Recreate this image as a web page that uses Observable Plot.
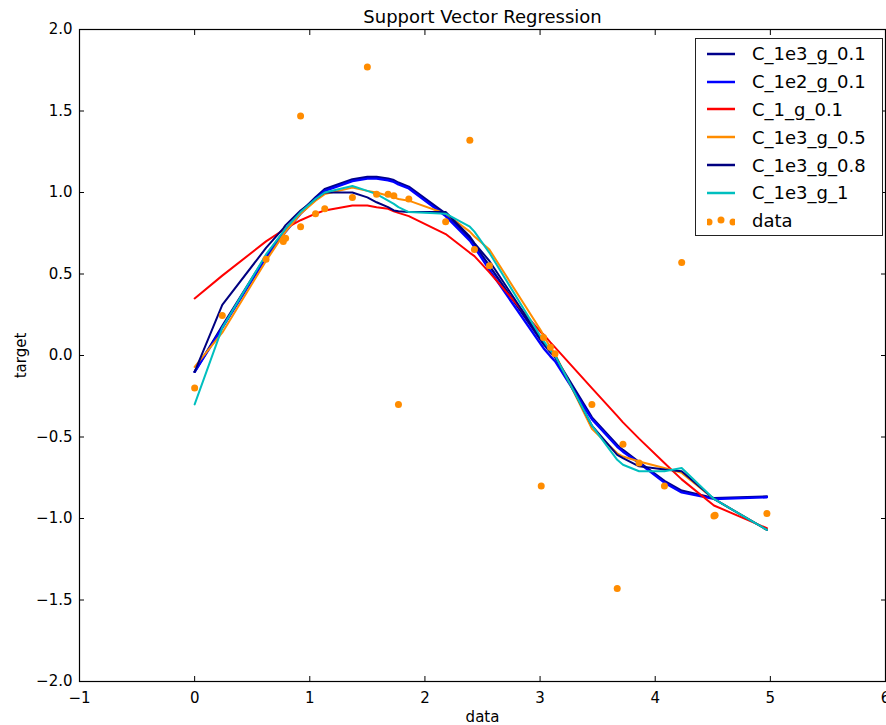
<!DOCTYPE html>
<html><head><meta charset="utf-8">
<script src="https://cdn.jsdelivr.net/npm/d3@7"></script>
<script src="https://cdn.jsdelivr.net/npm/@observablehq/plot@0.6"></script>
<style>
body{margin:0;background:#fff;overflow:hidden;font-family:"DejaVu Sans",sans-serif}
#wrap{position:relative;width:886px;height:725px}
#legend{position:absolute;left:695px;top:38px;width:188px;height:198px;border:1px solid #222;background:#fff;box-sizing:border-box;padding-top:1px}
.row{display:flex;align-items:center;height:27.8px;font-size:18px;color:#000;white-space:nowrap}
.row svg{margin-left:11px;flex:none}
.row span{margin-left:17px}
</style>
</head><body>
<div id="wrap"></div>
<script>
// ---- data ----
const title = "Support Vector Regression";
const xLabel = "data";
const yLabel = "target";
const xTicks = [-1, 0, 1, 2, 3, 4, 5, 6];
const yTicks = [-2, -1.5, -1, -0.5, 0, 0.5, 1, 1.5, 2];

const dataX = [0.00, 0.24, 0.62, 0.77, 0.79, 0.92, 0.92, 1.05, 1.13, 1.37, 1.50, 1.58, 1.68, 1.73, 1.77, 1.86, 2.18, 2.39, 2.43, 2.56, 3.01, 3.03, 3.09, 3.13, 3.45, 3.67, 3.72, 3.86, 4.08, 4.23, 4.51, 4.52, 4.97];
const dataY = [-0.20, 0.245, 0.59, 0.70, 0.72, 0.79, 1.47, 0.87, 0.90, 0.97, 1.77, 0.99, 0.99, 0.98, -0.30, 0.96, 0.82, 1.32, 0.65, 0.55, -0.80, 0.11, 0.05, 0.01, -0.30, -1.43, -0.545, -0.66, -0.80, 0.57, -0.985, -0.98, -0.97];

const lineX = [0.00, 0.24, 0.62, 0.77, 0.79, 0.92, 1.05, 1.13, 1.37, 1.50, 1.58, 1.68, 1.73, 1.77, 1.86, 2.18, 2.39, 2.43, 2.56, 3.01, 3.03, 3.09, 3.13, 3.45, 3.67, 3.72, 3.86, 4.08, 4.23, 4.51, 4.97];
const C_1e3_g_01 = [-0.10, 0.18, 0.61, 0.755, 0.775, 0.88, 0.97, 1.02, 1.08, 1.095, 1.095, 1.085, 1.075, 1.06, 1.035, 0.87, 0.72, 0.68, 0.55, 0.09, 0.07, 0.02, -0.01, -0.38, -0.55, -0.58, -0.655, -0.77, -0.83, -0.875, -0.865];
const C_1e2_g_01 = [-0.10, 0.17, 0.60, 0.74, 0.76, 0.87, 0.96, 1.01, 1.07, 1.085, 1.085, 1.075, 1.065, 1.05, 1.025, 0.855, 0.705, 0.665, 0.525, 0.065, 0.045, -0.005, -0.035, -0.39, -0.56, -0.59, -0.66, -0.78, -0.84, -0.88, -0.87];
const C_1_g_01 = [0.35, 0.49, 0.70, 0.77, 0.78, 0.83, 0.87, 0.89, 0.92, 0.92, 0.91, 0.90, 0.885, 0.875, 0.855, 0.745, 0.63, 0.61, 0.51, 0.14, 0.13, 0.08, 0.05, -0.20, -0.37, -0.41, -0.51, -0.66, -0.76, -0.92, -1.06];
const C_1e3_g_05 = [-0.07, 0.14, 0.58, 0.74, 0.76, 0.87, 0.95, 0.99, 1.03, 1.01, 1.00, 0.98, 0.97, 0.96, 0.95, 0.87, 0.76, 0.73, 0.65, 0.15, 0.12, 0.05, 0.01, -0.45, -0.60, -0.62, -0.65, -0.69, -0.72, -0.88, -1.07];
const C_1e3_g_08 = [-0.10, 0.31, 0.66, 0.78, 0.80, 0.89, 0.96, 1.00, 1.00, 0.97, 0.94, 0.91, 0.89, 0.885, 0.88, 0.88, 0.73, 0.69, 0.58, 0.10, 0.08, 0.03, 0.00, -0.43, -0.61, -0.63, -0.68, -0.70, -0.71, -0.88, -1.07];
const C_1e3_g_1 = [-0.30, 0.17, 0.62, 0.76, 0.78, 0.88, 0.96, 1.00, 1.04, 1.01, 0.99, 0.95, 0.93, 0.91, 0.88, 0.87, 0.79, 0.76, 0.63, 0.11, 0.09, 0.03, 0.00, -0.43, -0.64, -0.67, -0.71, -0.71, -0.69, -0.88, -1.07];

const seriesNames = ["C_1e3_g_0.1", "C_1e2_g_0.1", "C_1_g_0.1", "C_1e3_g_0.5", "C_1e3_g_0.8", "C_1e3_g_1"];
const seriesColors = ["#00008b", "#0000ff", "#ff0000", "#ff8c00", "#000080", "#00bfbf"];
const seriesValues = [C_1e3_g_01, C_1e2_g_01, C_1_g_01, C_1e3_g_05, C_1e3_g_08, C_1e3_g_1];
const dataName = "data";
const dataColor = "#ff8c00";

// ---- chart ----
const points = dataX.map((x, i) => ({x, y: dataY[i]}));
const fmtY = d3.format(".1f");
const fmtX = d3.format("d");

const lineMarks = seriesValues.map((vals, k) =>
  Plot.line(lineX.map((x, i) => ({x, y: vals[i]})), {x: "x", y: "y", stroke: seriesColors[k], strokeWidth: k < 2 ? 2.4 : 2})
);

const chart = Plot.plot({
  width: 886, height: 725,
  marginLeft: 79, marginRight: 1, marginTop: 29, marginBottom: 44,
  style: {fontFamily: "DejaVu Sans", fontSize: "15px", color: "#000", background: "#fff"},
  x: {domain: [-1, 6]},
  y: {domain: [-2, 2]},
  marks: [
    Plot.axisX(xTicks, {anchor: "bottom", tickSize: 0, tickPadding: 11, tickFormat: fmtX, label: xLabel, labelAnchor: "center", labelArrow: "none", labelOffset: 40}),
    Plot.axisX(xTicks, {anchor: "bottom", tickSize: -5, tickFormat: () => "", label: null}),
    Plot.axisX(xTicks, {anchor: "top", tickSize: -5, tickFormat: () => "", label: null}),
    Plot.axisY(yTicks, {anchor: "left", tickSize: 0, tickPadding: 7, tickFormat: fmtY, label: yLabel, labelAnchor: "center", labelArrow: "none", labelOffset: 64}),
    Plot.axisY(yTicks, {anchor: "left", tickSize: -5, tickFormat: () => "", label: null}),
    Plot.axisY(yTicks, {anchor: "right", tickSize: -5, tickFormat: () => "", label: null}),
    ...lineMarks,
    Plot.dot(points, {x: "x", y: "y", r: 3.5, fill: dataColor, stroke: "none"}),
    Plot.frame({stroke: "#000", strokeWidth: 1.2}),
    Plot.text([title], {text: d => d, frameAnchor: "top", lineAnchor: "middle", dy: -12, fontSize: 18})
  ]
});
const wrap = document.getElementById("wrap");
wrap.appendChild(chart);

// legend
const legend = document.createElement("div");
legend.id = "legend";
seriesNames.forEach((name, k) => {
  const row = document.createElement("div");
  row.className = "row";
  row.innerHTML = `<svg width="28" height="10"><line x1="0" x2="28" y1="5" y2="5" stroke="${seriesColors[k]}" stroke-width="2.5"/></svg><span>${name}</span>`;
  legend.appendChild(row);
});
const drow = document.createElement("div");
drow.className = "row";
drow.innerHTML = `<svg width="28" height="10"><circle cx="2" cy="6" r="3.5" fill="${dataColor}"/><circle cx="14" cy="4" r="3.5" fill="${dataColor}"/><circle cx="26" cy="6" r="3.5" fill="${dataColor}"/></svg><span>${dataName}</span>`;
legend.appendChild(drow);
wrap.appendChild(legend);
</script>
</body></html>
